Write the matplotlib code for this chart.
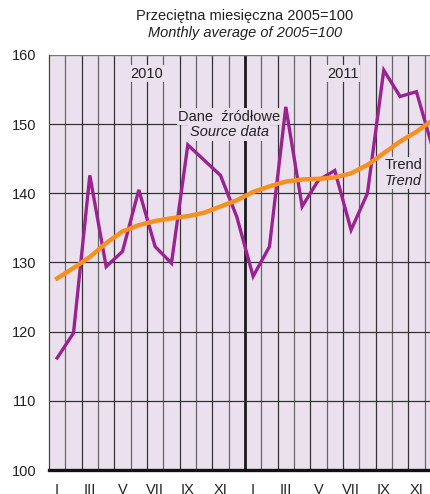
import matplotlib
matplotlib.use("Agg")
import matplotlib.pyplot as plt
import numpy as np

plt.rcParams['font.family'] = ['Liberation Sans Narrow', 'Liberation Sans', 'DejaVu Sans']

months = ["I", "II", "III", "IV", "V", "VI", "VII", "VIII", "IX", "X", "XI", "XII"]
tick_labels = ["I", "", "III", "", "V", "", "VII", "", "IX", "", "XI", ""] * 2
years = ["2010", "2011"]

source_data = [116.2, 119.8, 142.6, 129.4, 131.6, 140.5, 132.3, 129.9, 147.0, 144.8, 142.6, 136.6,
               128.0, 132.3, 152.5, 138.1, 141.9, 143.3, 134.7, 140.0, 157.8, 154.0, 154.7, 146.5]
trend = [127.7, 129.2, 130.8, 132.8, 134.5, 135.4, 136.0, 136.4, 136.7, 137.2, 138.1, 139.0,
         140.2, 141.0, 141.7, 142.0, 142.1, 142.3, 142.9, 144.1, 145.8, 147.5, 148.9, 150.6]
yticks = [100, 110, 120, 130, 140, 150, 160]

W, H = 431, 494
fig = plt.figure(figsize=(W / 100, H / 100), dpi=100)
cell = 16.33
left, right, top, bottom = 49, 49 + 24 * cell, 55, 470
ax = fig.add_axes([left / W, (H - bottom) / H, (right - left) / W, (bottom - top) / H])

bg = "#EBE1EE"
ax.set_facecolor(bg)
x = np.arange(len(source_data))
ax.set_xlim(-0.5, len(source_data) - 0.5)
ax.set_ylim(100, 160)

# grid
for k in range(len(source_data) - 1):
    b = k + 0.5
    if k == 11:
        ax.axvline(b, color="#1a1a1a", lw=2.0, zorder=1)
    else:
        ax.axvline(b, color="#666666" if k % 2 == 0 else "#333333", lw=0.9, zorder=1)
for yv in yticks[1:-1]:
    ax.axhline(yv, color="#333333", lw=0.9, zorder=1)

for s in ["top", "right"]:
    ax.spines[s].set_visible(False)
ax.axhline(160, color="#777777", lw=1.0, zorder=1)
ax.spines["left"].set_color("#444444")
ax.spines["left"].set_linewidth(0.9)
ax.spines["bottom"].set_color("#111111")
ax.spines["bottom"].set_linewidth(2.4)
ax.spines["bottom"].set_zorder(5)

ax.plot(x, source_data, color="#9C2191", lw=2.4, zorder=4, solid_joinstyle="miter")
ax.plot(x, trend, color="#F7901E", lw=3.2, zorder=5)

ax.set_yticks(yticks)
ax.set_yticklabels([str(v) for v in yticks], fontsize=10.5, color="#222222")
ax.set_xticks(x)
ax.set_xticklabels(tick_labels, fontsize=10.5, color="#222222")
ax.tick_params(axis="both", length=0, pad=9)

box = dict(facecolor=bg, edgecolor="none", pad=1.0)
ax.text(5.5, 157.3, years[0], ha="center", va="center", fontsize=10.5, color="#222222", zorder=2, bbox=box)
ax.text(17.5, 157.3, years[1], ha="center", va="center", fontsize=10.5, color="#222222", zorder=2, bbox=box)
ax.text(10.55, 151.1, "Dane  źródłowe", ha="center", va="center", fontsize=10.5, color="#222222", zorder=2,
        bbox=dict(facecolor=bg, edgecolor="none", pad=1.0))
ax.text(10.55, 148.8, "Source data", ha="center", va="center", fontsize=10.5, style="italic", color="#222222",
        zorder=2.1, bbox=dict(facecolor=bg, edgecolor="none", pad=1.0))
ax.text(21.2, 144.1, "Trend", ha="center", va="center", fontsize=10.5, color="#222222", zorder=2,
        bbox=dict(facecolor=bg, edgecolor="none", pad=1.0))
ax.text(21.2, 141.8, "Trend", ha="center", va="center", fontsize=10.5, style="italic", color="#222222", zorder=2.1,
        bbox=dict(facecolor=bg, edgecolor="none", pad=1.0))

fig.text(245 / W, 1 - 16 / H, "Przeciętna miesięczna 2005=100", ha="center", va="center", fontsize=10.5, color="#222222")
fig.text(245 / W, 1 - 33 / H, "Monthly average of 2005=100", ha="center", va="center", fontsize=10.5,
         style="italic", color="#222222")

fig.savefig("out.png", dpi=100, facecolor="white")
